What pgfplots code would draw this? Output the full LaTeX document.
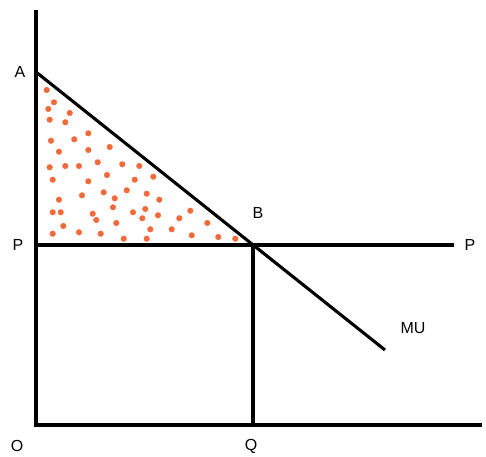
\documentclass[border=0pt]{standalone}
\usepackage{fontspec}
\setmainfont{Liberation Sans}
\usepackage{pgfplots}
\pgfplotsset{compat=1.18}
\definecolor{dotorange}{RGB}{241,106,58}
\begin{document}
\begin{tikzpicture}[lbl/.style={font=\fontsize{16}{19}\selectfont}]
\begin{axis}[
  scale only axis,
  width=486pt, height=454pt,
  xmin=-36, xmax=450, ymin=-29, ymax=425,
  axis lines=none,
  clip=false,
]
% keep the full plot area as the picture's extent
\path (rel axis cs:0,0) rectangle (rel axis cs:1,1);
% axes
\addplot[black, line width=3.1pt] coordinates {(0,415) (0,0) (446,0)};
% price line
\addplot[black, line width=3.1pt] coordinates {(0,180) (418,180)};
% quantity line
\addplot[black, line width=3.1pt] coordinates {(217,180) (217,0)};
% marginal utility
\addplot[black, line width=3.1pt] coordinates {(0,353) (349,75)};
% consumer surplus dots
\addplot[only marks, mark=*, mark size=2.8pt, color=dotorange] coordinates {
(10.7,335) (18,322.7) (12.3,316) (33.7,312) (13.7,305.3) (29.3,302.7)
(52.3,291.7) (38.3,285.7) (15,284.3) (73.7,278) (52.3,275) (23,273.3)
(61.7,262.7) (86.3,260.7) (103.3,259) (29.3,259) (43,259) (13.7,257.7)
(71,250) (117.3,248.3) (98.7,245.3) (16.7,245.3) (52.3,243.7) (90.7,234.7)
(67.7,232.7) (110.7,231.3) (46,229.7) (78.7,226.7) (123.3,225.3) (23,225.3)
(77,217.7) (109.3,216) (154.3,214.3) (97,212.7) (16.7,212.7) (24.7,212.7)
(56.7,211.3) (122,209.7) (106.3,206.7) (143.3,206.7) (60.3,205) (80.3,202)
(171.3,202) (27.3,199) (114.3,195.7) (135.7,195.7) (16.7,191.3) (43,192.7)
(64.7,191.3) (155.7,189.7) (182.3,188) (199.3,186.3) (87.7,186.3) (110.7,186.3)
};
% labels
\node[lbl] at (axis cs:-16,353) {A};
\node[lbl] at (axis cs:-18,180) {P};
\node[lbl] at (axis cs:434,180) {P};
\node[lbl] at (axis cs:222,212) {B};
\node[lbl] at (axis cs:377,97) {MU};
\node[lbl] at (axis cs:-19,-21) {O};
\node[lbl] at (axis cs:215,-21) {Q};
\end{axis}
\end{tikzpicture}
\end{document}
